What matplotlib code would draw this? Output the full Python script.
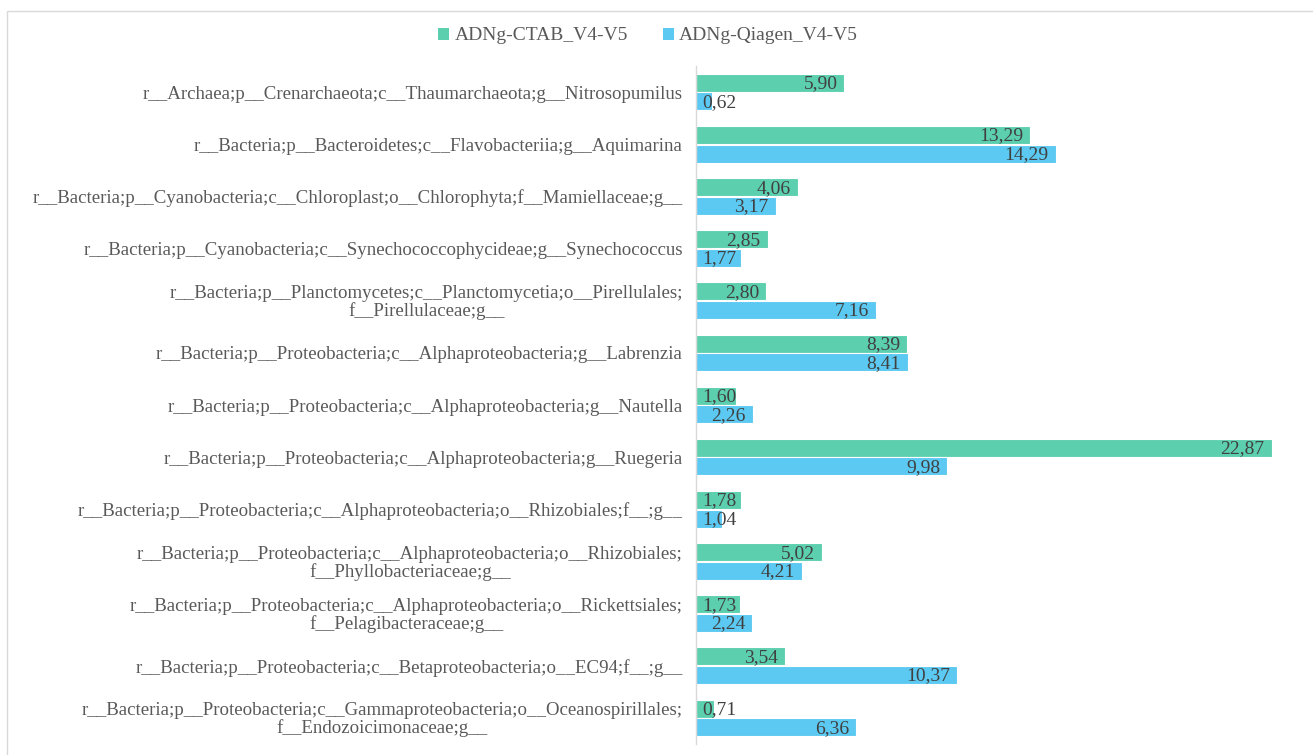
import matplotlib
matplotlib.use("Agg")
import matplotlib.pyplot as plt
from matplotlib.patches import Rectangle, Patch
from matplotlib.transforms import offset_copy
import numpy as np

categories = [
    "r__Archaea;p__Crenarchaeota;c__Thaumarchaeota;g__Nitrosopumilus",
    "r__Bacteria;p__Bacteroidetes;c__Flavobacteriia;g__Aquimarina",
    "r__Bacteria;p__Cyanobacteria;c__Chloroplast;o__Chlorophyta;f__Mamiellaceae;g__",
    "r__Bacteria;p__Cyanobacteria;c__Synechococcophycideae;g__Synechococcus",
    "r__Bacteria;p__Planctomycetes;c__Planctomycetia;o__Pirellulales;\nf__Pirellulaceae;g__",
    "r__Bacteria;p__Proteobacteria;c__Alphaproteobacteria;g__Labrenzia",
    "r__Bacteria;p__Proteobacteria;c__Alphaproteobacteria;g__Nautella",
    "r__Bacteria;p__Proteobacteria;c__Alphaproteobacteria;g__Ruegeria",
    "r__Bacteria;p__Proteobacteria;c__Alphaproteobacteria;o__Rhizobiales;f__;g__",
    "r__Bacteria;p__Proteobacteria;c__Alphaproteobacteria;o__Rhizobiales;\nf__Phyllobacteriaceae;g__",
    "r__Bacteria;p__Proteobacteria;c__Alphaproteobacteria;o__Rickettsiales;\nf__Pelagibacteraceae;g__",
    "r__Bacteria;p__Proteobacteria;c__Betaproteobacteria;o__EC94;f__;g__",
    "r__Bacteria;p__Proteobacteria;c__Gammaproteobacteria;o__Oceanospirillales;\nf__Endozoicimonaceae;g__",
]
series_names = ["ADNg-CTAB_V4-V5", "ADNg-Qiagen_V4-V5"]
ctab = [5.90, 13.29, 4.06, 2.85, 2.80, 8.39, 1.60, 22.87, 1.78, 5.02, 1.73, 3.54, 0.71]
qiagen = [0.62, 14.29, 3.17, 1.77, 7.16, 8.41, 2.26, 9.98, 1.04, 4.21, 2.24, 10.37, 6.36]

colors = ["#5ccfae", "#5bc9f1"]
text_color = "#595959"
label_color = "#404040"

plt.rcParams['font.family'] = ['Liberation Serif', 'DejaVu Serif']

W, H = 1313, 755
fig = plt.figure(figsize=(W / 100, H / 100), dpi=100)

# chart border
fig.patches.append(Rectangle((7 / W, -0.01), 1.0, 1 - 11 / H + 0.01, transform=fig.transFigure,
                             fill=False, edgecolor="#d9d9d9", linewidth=1.0))

ax = fig.add_axes([696 / W, 1 - 744 / H, (1300 - 696) / W, (744 - 66) / H])

n = len(categories)
y = np.arange(n)
off = 0.178
bh = 0.345
bars1 = ax.barh(y - off, ctab, height=bh, color=colors[0], edgecolor="white", linewidth=0.8)
bars2 = ax.barh(y + off, qiagen, height=bh, color=colors[1], edgecolor="white", linewidth=0.8)

ax.set_xlim(0, 24)
ax.set_ylim(n - 0.5, -0.5)
ax.set_xticks([])
ax.set_yticks(y)
ax.set_yticklabels(categories, fontsize=13.6, color=text_color, multialignment="center",
                   linespacing=1.0)
ax.tick_params(axis="y", length=0, pad=9.4)
for s in ["top", "right", "bottom"]:
    ax.spines[s].set_visible(False)
ax.spines["left"].set_color("#d9d9d9")
ax.spines["left"].set_linewidth(1.0)

texts = []
for bars, vals in ((bars1, ctab), (bars2, qiagen)):
    for b, v in zip(bars, vals):
        yc = b.get_y() + b.get_height() / 2
        tr = offset_copy(ax.transData, fig=fig, x=-7, y=-1, units="dots")
        t = ax.text(v, yc, f"{v:.2f}".replace(".", ","), ha="right", va="center",
                    fontsize=14, color=label_color, transform=tr)
        texts.append((t, v, yc))

fig.canvas.draw()
renderer = fig.canvas.get_renderer()
ax_left_px = ax.transData.transform((0, 0))[0]
for t, v, yc in texts:
    bb = t.get_window_extent(renderer)
    if bb.x0 < ax_left_px + 6:
        t.set_transform(offset_copy(ax.transData, fig=fig, x=6, y=-1, units="dots"))
        t.set_position((0, yc))
        t.set_ha("left")

handles = [Patch(facecolor=colors[0], edgecolor="none"), Patch(facecolor=colors[1], edgecolor="none")]
fig.legend(handles, series_names, loc="center", bbox_to_anchor=(648 / W, 1 - 36 / H), ncol=2,
           frameon=False, fontsize=14, labelcolor=text_color, handlelength=0.57, handleheight=0.57,
           handletextpad=0.26, columnspacing=1.8)

fig.savefig("out.png", dpi=100)
